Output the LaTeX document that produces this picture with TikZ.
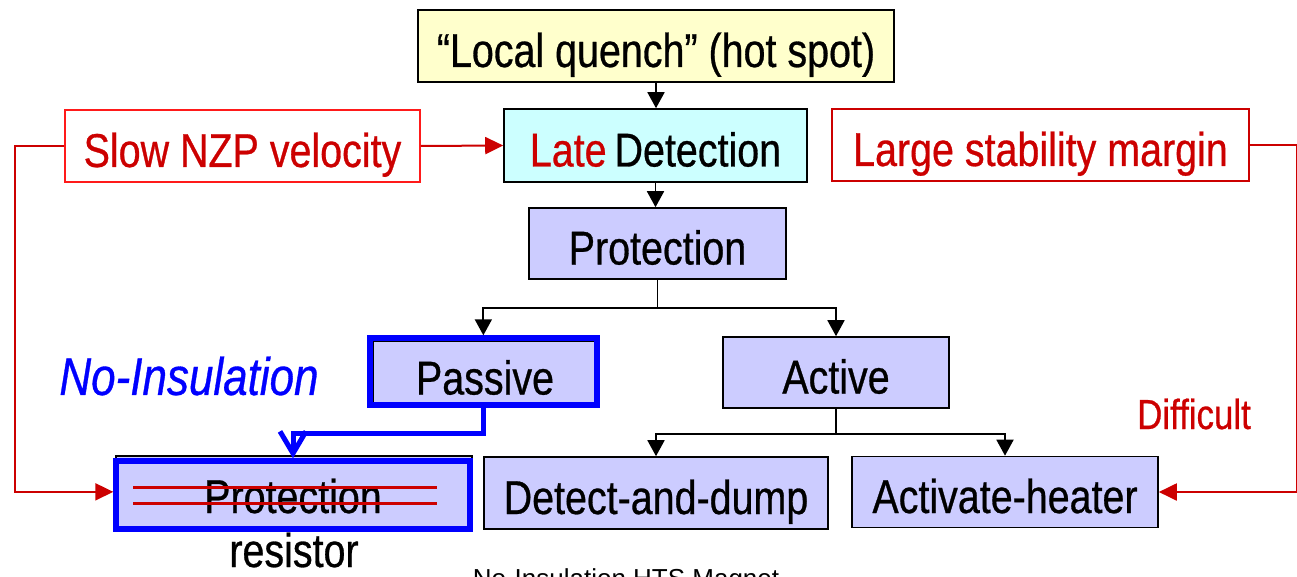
\documentclass[tikz,border=0pt]{standalone}
\usepackage{fontspec}
\setmainfont{Liberation Sans}[FakeStretch=0.83, FakeBold=0.6]
\newfontfamily\capfont{Liberation Sans}
\usetikzlibrary{arrows.meta}
\definecolor{qyellow}{HTML}{FFFFCC}
\definecolor{qcyan}{HTML}{CCFFFF}
\definecolor{qlav}{HTML}{CCCCFF}
\definecolor{qred}{HTML}{CC0000}
\definecolor{qbright}{HTML}{FF1A1A}
\definecolor{qblue}{HTML}{0000FF}
\begin{document}
\begin{tikzpicture}[x=1pt,y=-1pt,
  every node/.style={font=\fontsize{47.5}{54}\selectfont, inner sep=0pt},
  box/.style={draw=black, line width=1.6pt, text height=42pt, text depth=0pt},
  redbox/.style={draw=qred, line width=1.6pt, text=qred, fill=white, text height=42pt, text depth=0pt},
  bluebox/.style={draw=qblue, line width=6pt},
  blk/.style={draw=black, line width=1.8pt, -{Triangle[width=17pt,length=16pt]}},
  blkline/.style={draw=black, line width=1.8pt},
  redarr/.style={draw=qred, line width=2pt, -{Triangle[width=17pt,length=18pt]}},
  bluearr/.style={draw=qblue, line width=5pt, -{Straight Barb[width=26pt, length=22pt]}},
  strike/.style={draw=qred, line width=3pt}
]
\useasboundingbox (0,0) rectangle (1297,577);

% boxes
\node[box, fill=qyellow, minimum width=476pt, minimum height=72pt] (lq) at (656,46) {“Local quench” (hot spot)};
\node[box, fill=qcyan, minimum width=303pt, minimum height=73pt] (ld) at (655.5,145.5) {\textcolor{qred}{Late}\hspace{-3pt} Detection};
\node[redbox, draw=qbright, minimum width=355pt, minimum height=72pt] (slow) at (242.5,146) {Slow NZP velocity};
\node[redbox, minimum width=417pt, minimum height=72pt] (large) at (1040.5,145) {Large stability margin};
\node[box, fill=qlav, minimum width=257pt, minimum height=71pt] (prot) at (657.5,243.5) {Protection};
\node[box, fill=qlav, minimum width=224pt, minimum height=63pt, text height=44pt] (pas) at (485,372.5) {Passive};
\node[box, fill=qlav, minimum width=226pt, minimum height=71pt] (act) at (836,372.5) {Active};
\node[box, fill=qlav, minimum width=344pt, minimum height=72pt] (dd) at (656,493) {Detect-and-dump};
\node[box, fill=qlav, minimum width=306pt, minimum height=71pt] (ah) at (1005,492) {Activate-heater};
\node[box, fill=qlav, minimum width=356pt, minimum height=72.3pt] (pr) at (294,491.85) {};

% blue highlight frames
\node[bluebox, minimum width=226.7pt, minimum height=66.7pt] (pasb) at (483.35,371.65) {};
\node[bluebox, minimum width=353.4pt, minimum height=67.7pt] (prb) at (293,495.15) {};

% protection resistor text
\node[anchor=base] (prt) at (293,513) {Protection};
\draw[strike] (133,487) -- (437,487);
\draw[strike] (133,503) -- (437,503);
\node[anchor=base] (res) at (294,567) {resistor};

% labels
\node[font=\fontsize{53}{60}\selectfont\itshape, text=qblue] (ni) at (189,376) {No-Insulation};
\node[font=\fontsize{42}{48}\selectfont, text=qred] (diff) at (1194,414) {Difficult};
\node[font=\capfont\fontsize{26}{30}\selectfont, anchor=base] (cap) at (626,587) {No-Insulation HTS Magnet};

% black connectors
\draw[blk] (lq.south) -- (lq.south |- ld.north);
\draw[blk] (ld.south) -- (ld.south |- prot.north);
\draw[blkline] (prot.south) -- ++(0,28) coordinate (j1);
\draw[blk] (j1) -| (pasb.north);
\draw[blk] (j1) -| (act.north);
\draw[blkline] (act.south) -- ++(0,25) coordinate (j2);
\draw[blk] (j2) -| (dd.north);
\draw[blk] (j2) -| (ah.north);

% red connectors
\draw[redarr] (slow.east) -- (ld.west);
\draw[redarr] (large.east) -- ++(47,0) |- (ah.east);
\draw[redarr] (slow.west) -- ++(-49,0) |- (prb.west |- pr.west);

% blue connector
\draw[bluearr] (pasb.south) -- ++(0,25) -| (prb.north);
\end{tikzpicture}
\end{document}
